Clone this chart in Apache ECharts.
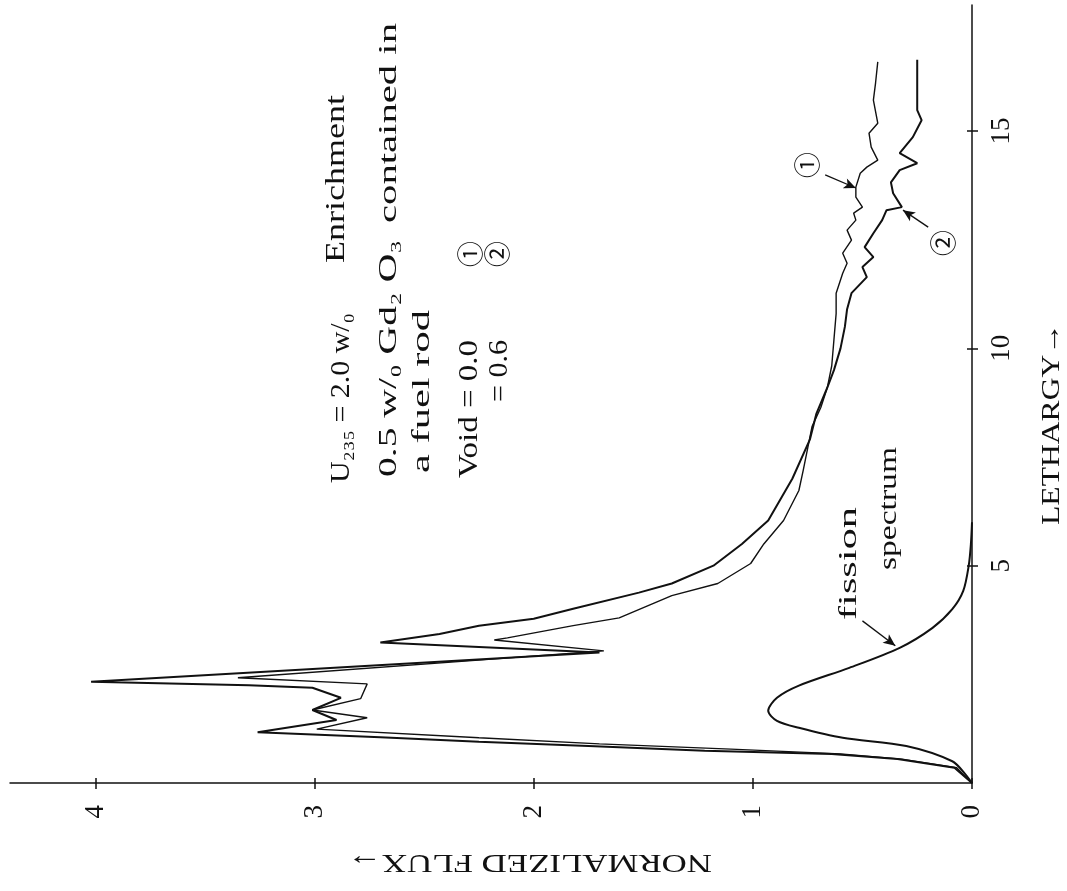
<!DOCTYPE html>
<html>
<head>
<meta charset="utf-8">
<title>Normalized flux vs lethargy</title>
<script src="https://cdn.jsdelivr.net/npm/echarts@6/dist/echarts.min.js"></script>
<style>
  html, body { margin: 0; padding: 0; background: #fff; }
  #chart { width: 1067px; height: 891px; }
</style>
</head>
<body>
<div id="chart"></div>
<script>
// curve (1): void = 0.0
const lethargy1 = [0, 0.35, 0.55, 0.67, 0.78, 0.9, 1.04, 1.24, 1.5, 1.68, 1.94, 2.28, 2.42, 3.04, 3.29, 3.34, 3.62, 3.8, 4.31, 4.59, 5.05, 5.5, 6.04, 6.73, 7.2, 7.7, 8.2, 8.64, 9.1, 9.6, 10.2, 10.8, 11.27, 11.73, 11.96, 12.19, 12.49, 12.72, 12.95, 13.11, 13.25, 13.48, 13.71, 14.03, 14.17, 14.33, 14.63, 14.95, 15.18, 15.71, 16.11, 16.59];
const flux1 = [0, 0.07, 0.32, 0.6, 1.1, 1.7, 2.25, 2.99, 2.76, 3.01, 2.79, 2.76, 3.35, 1.68, 2.18, 2.12, 1.82, 1.61, 1.37, 1.16, 1.01, 0.95, 0.86, 0.79, 0.77, 0.75, 0.73, 0.69, 0.66, 0.64, 0.63, 0.62, 0.62, 0.59, 0.57, 0.59, 0.55, 0.57, 0.53, 0.54, 0.5, 0.53, 0.53, 0.51, 0.48, 0.43, 0.46, 0.47, 0.43, 0.45, 0.44, 0.43];

// curve (2): void = 0.6
const lethargy2 = [0, 0.35, 0.55, 0.67, 0.74, 0.85, 0.95, 1.05, 1.17, 1.45, 1.68, 1.96, 2.19, 2.25, 2.33, 3.0, 3.23, 3.43, 3.62, 3.78, 4.01, 4.38, 4.59, 5.0, 5.5, 6.04, 7.0, 7.9, 8.5, 9.1, 9.5, 10.0, 10.5, 10.9, 11.27, 11.64, 11.87, 12.1, 12.33, 12.65, 12.95, 13.18, 13.25, 13.57, 13.82, 14.1, 14.26, 14.49, 14.86, 15.25, 15.48, 16.01, 16.64];
const flux2 = [0, 0.08, 0.34, 0.64, 1.22, 1.75, 2.25, 2.7, 3.26, 2.9, 3.01, 2.88, 3.01, 3.3, 4.02, 1.7, 2.7, 2.43, 2.25, 2.0, 1.82, 1.52, 1.37, 1.18, 1.05, 0.93, 0.82, 0.74, 0.71, 0.66, 0.63, 0.6, 0.58, 0.57, 0.55, 0.48, 0.5, 0.45, 0.49, 0.45, 0.41, 0.39, 0.32, 0.36, 0.37, 0.33, 0.25, 0.33, 0.27, 0.23, 0.25, 0.25, 0.25];

// fission spectrum
const lethargyF = [0, 0.2, 0.5, 0.85, 1.04, 1.27, 1.43, 1.66, 1.96, 2.24, 2.65, 3.11, 3.57, 4.0, 4.42, 5.0, 5.5, 6.0];
const fluxF = [0, 0.03, 0.09, 0.3, 0.59, 0.79, 0.89, 0.93, 0.89, 0.79, 0.56, 0.33, 0.18, 0.09, 0.04, 0.015, 0.005, 0];

const fluxTicks = [0, 1, 2, 3, 4];
const lethargyTicks = [5, 10, 15];

// pointer arrows [from, to] as [flux, lethargy]
const pointerArrows = [
  [[0.5, 3.73], [0.35, 3.16]],
  [[0.67, 13.99], [0.53, 13.69]],
  [[0.2, 12.79], [0.315, 13.18]]
];

const FONT = '"Liberation Serif", "DejaVu Serif", serif';
const CIRCLE_FONT = '"Noto Sans CJK JP", "DejaVu Sans", sans-serif';
const INK = '#111';

const pairs = (f, u) => f.map((v, i) => [v, u[i]]);

const measure = document.createElement('canvas').getContext('2d');
// text turned a quarter turn (reads bottom to top), stretched to span y0 -> y1
function vtext(str, x, y0, y1, size) {
  measure.font = size + 'px ' + FONT;
  const w = measure.measureText(str).width;
  return {
    type: 'text', x: x, y: y0, rotation: Math.PI / 2,
    scaleX: Math.abs(y0 - y1) / w,
    style: { text: str, fontSize: size, fontFamily: FONT, fill: INK,
      align: 'left', verticalAlign: 'middle' }
  };
}
function circled(str, x, y, size) {
  return {
    type: 'text', x: x, y: y, rotation: Math.PI / 2,
    style: { text: str, fontSize: size, fontFamily: CIRCLE_FONT, fill: INK,
      align: 'center', verticalAlign: 'middle' }
  };
}
function flipText(str, x0, x1, y, size) {
  measure.font = size + 'px ' + FONT;
  const w = measure.measureText(str).width;
  return {
    type: 'text', x: x0, y: y, rotation: Math.PI,
    scaleX: Math.abs(x0 - x1) / w,
    style: { text: str, fontSize: size, fontFamily: FONT, fill: INK,
      align: 'left', verticalAlign: 'middle' }
  };
}

const chart = echarts.init(document.getElementById('chart'), null, { renderer: 'canvas' });

const lineAxis = { lineStyle: { color: INK, width: 1.5 } };
const labelStyle = { fontSize: 27, fontFamily: FONT, color: INK, rotate: 90 };

const option = {
  backgroundColor: '#fff',
  animation: false,
  grid: { left: 10, right: 95, top: 5, bottom: 108 },
  xAxis: [
    {
      type: 'value', min: 0, max: 4.39, inverse: true, position: 'bottom',
      axisLine: lineAxis,
      axisTick: { customValues: fluxTicks, length: 6, lineStyle: { color: INK, width: 1.5 } },
      axisLabel: Object.assign({ customValues: fluxTicks, margin: 22 }, labelStyle),
      splitLine: { show: false }
    },
    {
      type: 'value', min: 0, max: 4.39, inverse: true, position: 'bottom',
      axisLine: { show: false },
      axisTick: { customValues: fluxTicks, inside: true, length: 5, lineStyle: { color: INK, width: 1.5 } },
      axisLabel: { show: false },
      splitLine: { show: false }
    }
  ],
  yAxis: [
    {
      type: 'value', min: 0, max: 17.9, position: 'right',
      axisLine: lineAxis,
      axisTick: { customValues: lethargyTicks, length: 6, lineStyle: { color: INK, width: 1.5 } },
      axisLabel: Object.assign({ customValues: lethargyTicks, margin: 16 }, labelStyle),
      splitLine: { show: false }
    },
    {
      type: 'value', min: 0, max: 17.9, position: 'right',
      axisLine: { show: false },
      axisTick: { customValues: lethargyTicks, inside: true, length: 5, lineStyle: { color: INK, width: 1.5 } },
      axisLabel: { show: false },
      splitLine: { show: false }
    }
  ],
  series: [
    {
      name: 'void 0.0', type: 'line', data: pairs(flux1, lethargy1),
      symbol: 'none', lineStyle: { color: INK, width: 1.4 }
    },
    {
      name: 'void 0.6', type: 'line', data: pairs(flux2, lethargy2),
      symbol: 'none', lineStyle: { color: INK, width: 2 }
    },
    {
      name: 'fission spectrum', type: 'line', data: pairs(fluxF, lethargyF),
      symbol: 'none', smooth: 0.3, lineStyle: { color: INK, width: 2 },
      markLine: {
        silent: true, symbol: ['none', 'arrow'], symbolSize: [8, 12],
        label: { show: false },
        lineStyle: { color: INK, width: 1.3, type: 'solid' },
        data: pointerArrows.map(a => [{ coord: a[0] }, { coord: a[1] }])
      }
    }
  ],
  graphic: [
    vtext('U₂₃₅ = 2.0 w/₀', 342, 483, 313, 27),
    vtext('Enrichment', 337, 263, 95, 27),
    vtext('0.5 w/₀ Gd₂ O₃', 389, 477, 240, 26),
    vtext('contained in', 389, 223, 23, 26),
    vtext('a fuel rod', 422, 473, 310, 26),
    vtext('Void = 0.0', 470, 478, 340, 27),
    circled('①', 470, 254, 26),
    vtext('= 0.6', 500, 402, 340, 27),
    circled('②', 497, 254, 26),
    vtext('fission', 849, 620, 507, 26),
    vtext('spectrum', 889, 570, 447, 26),
    circled('①', 807, 165, 26),
    circled('②', 943, 243, 26),
    vtext('LETHARGY→', 1052, 525, 323, 26),
    flipText('NORMALIZED FLUX→', 712, 347, 862, 26)
  ]
};

chart.setOption(option);
</script>
</body>
</html>
